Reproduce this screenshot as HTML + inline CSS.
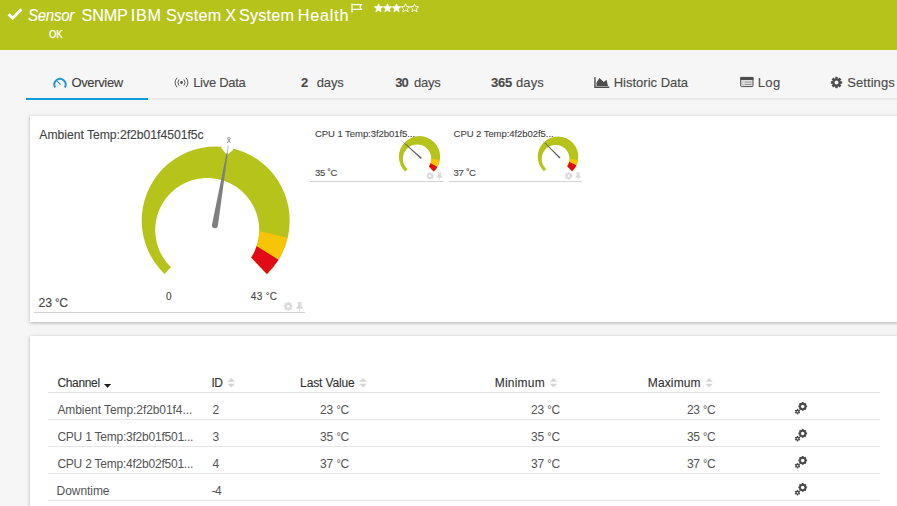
<!DOCTYPE html>
<html>
<head>
<meta charset="utf-8">
<title>Sensor SNMP IBM System X System Health</title>
<style>
*{box-sizing:border-box;margin:0;padding:0}
html,body{width:897px;height:506px;overflow:hidden}
body{background:#f6f6f6;font-family:"Liberation Sans",sans-serif;color:#4d4d4d;position:relative}
.abs{position:absolute;white-space:nowrap;line-height:1}
#hdr{position:absolute;left:0;top:0;width:897px;height:50px;background:#b5c31b}
#hdr .t{color:#fff}
.x{position:absolute;white-space:nowrap;line-height:1;color:#4a4a4a;-webkit-text-stroke:0.12px currentColor}
.x b{font-weight:bold}
.d{font-size:.9em;position:relative;top:-.09em}
.panel{position:absolute;background:#fff;box-shadow:0 1px 3px rgba(0,0,0,.25),0 0 8px rgba(0,0,0,.05)}
.hl{position:absolute;height:1px;background:#d2d2d2}
.rowl{position:absolute;left:48px;width:832px;height:1px;background:#e6e6e6}
</style>
</head>
<body>

<!-- header -->
<div id="hdr">
  <svg class="abs" style="left:7px;top:7px" width="16" height="14" viewBox="0 0 16 14"><path d="M1.6 7.3 L5.6 11.2 L14.3 2.2" fill="none" stroke="#fff" stroke-width="3"/></svg>
  <svg class="abs" style="left:351px;top:3.4px" width="12" height="10" viewBox="0 0 12 10"><path d="M1 0.5 V9.5 M1 1.6 H10.3 L9 3.9 L10.3 6.3 H1" fill="none" stroke="#fff" stroke-width="1.25"/></svg>
  <svg class="abs" id="stars" style="left:374px;top:2.9px" width="46" height="11" viewBox="0 0 46 11">
    <g fill="#fff" stroke="#fff" stroke-width="0.8" stroke-linejoin="miter">
      <path id="st" d="M4.5 0.8 L5.7 3.6 L8.7 3.8 L6.4 5.8 L7.1 8.8 L4.5 7.2 L1.9 8.8 L2.6 5.8 L0.3 3.8 L3.3 3.6 Z"/>
      <path d="M4.5 0.8 L5.7 3.6 L8.7 3.8 L6.4 5.8 L7.1 8.8 L4.5 7.2 L1.9 8.8 L2.6 5.8 L0.3 3.8 L3.3 3.6 Z" transform="translate(9,0)"/>
      <path d="M4.5 0.8 L5.7 3.6 L8.7 3.8 L6.4 5.8 L7.1 8.8 L4.5 7.2 L1.9 8.8 L2.6 5.8 L0.3 3.8 L3.3 3.6 Z" transform="translate(18,0)"/>
    </g>
    <g fill="none" stroke="#fff" stroke-width="0.9">
      <path d="M4.5 0.8 L5.7 3.6 L8.7 3.8 L6.4 5.8 L7.1 8.8 L4.5 7.2 L1.9 8.8 L2.6 5.8 L0.3 3.8 L3.3 3.6 Z" transform="translate(27,0)"/>
      <path d="M4.5 0.8 L5.7 3.6 L8.7 3.8 L6.4 5.8 L7.1 8.8 L4.5 7.2 L1.9 8.8 L2.6 5.8 L0.3 3.8 L3.3 3.6 Z" transform="translate(36,0)"/>
    </g>
  </svg>
</div>

<!-- tabs -->
<div class="hl" style="left:26px;top:98px;width:871px;height:2px;background:#ebebeb"></div>
<div class="abs" style="left:26px;top:98px;width:122px;height:2px;background:#0f9bd8"></div>

<svg class="abs" style="left:52.8px;top:75.6px" width="14" height="14" viewBox="0 0 14 14"><path d="M2.2 11.5 A5.6 5.6 0 1 1 11.8 11.5" fill="none" stroke="#1e95d3" stroke-width="1.9"/><path d="M7.6 8.6 L4 5.2" stroke="#1e95d3" stroke-width="1.1"/></svg>

<svg class="abs" style="left:174px;top:76.5px" width="15" height="11" viewBox="0 0 15 11"><g fill="none" stroke="#555" stroke-width="1"><path d="M3 0.8 A7.4 7.4 0 0 0 3 10.2"/><path d="M5.1 2.5 A4.6 4.6 0 0 0 5.1 8.5"/><path d="M12 0.8 A7.4 7.4 0 0 1 12 10.2"/><path d="M9.9 2.5 A4.6 4.6 0 0 1 9.9 8.5"/></g><circle cx="7.5" cy="5.5" r="1.45" fill="#555"/></svg>


<svg class="abs" style="left:590px;top:74px" width="24" height="16" viewBox="590 74 24 16"><path d="M594.95 77.2 V87.3 H609.3" fill="none" stroke="#4d4d4d" stroke-width="1.4"/><path d="M596.5 85.9 V82.4 L599.4 77.9 L603.8 82.1 L606.5 79.8 L608 85.9 Z" fill="#4d4d4d"/></svg>

<svg class="abs" style="left:736px;top:74px" width="24" height="16" viewBox="736 74 24 16"><rect x="740.7" y="77.4" width="12.3" height="9.2" rx="0.8" fill="#e0e0e0" stroke="#4d4d4d" stroke-width="1"/><rect x="740.2" y="76.9" width="13.3" height="3" rx="0.8" fill="#4d4d4d"/><path d="M744.6 82 H751.6 M744.6 84.4 H751.6" stroke="#8c8c8c" stroke-width="0.9"/><path d="M742 82 H743.4 M742 84.4 H743.4" stroke="#a8a8a8" stroke-width="0.9"/></svg>

<svg class="abs" id="tabgear" style="left:829.85px;top:75.5px" width="13" height="13" viewBox="-6.5 -6.5 13 13"><g fill="#4d4d4d"><circle r="4.25"/><rect x="-1.25" y="-5.65" width="2.5" height="11.3"/><rect x="-1.25" y="-5.65" width="2.5" height="11.3" transform="rotate(45)"/><rect x="-1.25" y="-5.65" width="2.5" height="11.3" transform="rotate(90)"/><rect x="-1.25" y="-5.65" width="2.5" height="11.3" transform="rotate(135)"/></g><circle r="2" fill="#f6f6f6"/></svg>

<!-- panel 1 -->
<div class="panel" style="left:30px;top:116px;width:900px;height:206px"></div>

<div class="hl" style="left:34px;top:312px;width:271px"></div>

<svg class="abs" style="left:130px;top:125px" width="180" height="160" viewBox="130 125 180 160">
  <defs>
    <clipPath id="cpL" clip-rule="evenodd"><path clip-rule="evenodd" d="M130 125 H310 V285 H130 Z M259.2 230 A52 52 0 1 0 155.2 230 A52 52 0 1 0 259.2 230 Z"/></clipPath>
  </defs>
  <g clip-path="url(#cpL)">
    <!-- green 135deg -> 373.5 -->
    <path d="M215.7 220.5 L164.48 273.91 A74 74 0 1 1 266.92 273.91 Z" fill="#b5c31b"/>
    <path d="M215.7 220.5 L287.66 237.78 A74 74 0 0 1 266.92 273.91 Z" fill="#f6c506"/>
    <path d="M215.7 220.5 L278.46 259.71 A74 74 0 0 1 266.92 273.91 Z" fill="#e30a17"/>
  </g>
  <path d="M221.5 144 L233 144 L232.8 150.2 L226.9 155 L221.6 148.3 Z" fill="#fff"/>
  <path d="M226.6 152.7 L227.8 152.9 L217.85 225.9 A3 3 0 0 1 211.95 224.9 Z" fill="#7f7f7f"/>
  <path d="M227.2 153 L228.3 145.5" stroke="#9a9a9a" stroke-width="0.7"/>
  <text x="228.8" y="143" font-size="8.5" fill="#777" text-anchor="middle" font-family="Liberation Sans, sans-serif">x̄</text>
</svg>

<!-- mini gauges -->
<div class="hl" style="left:310px;top:181px;width:134px"></div>
<div class="hl" style="left:449px;top:181px;width:133px"></div>

<svg class="abs" style="left:390px;top:130px" width="200" height="50" viewBox="390 130 200 50">
  <defs>
    <clipPath id="cpS"><path clip-rule="evenodd" d="M390 130 H460 V180 H390 Z M431.3 158.8 A14.2 14.2 0 1 0 402.9 158.8 A14.2 14.2 0 1 0 431.3 158.8 Z"/></clipPath>
    <clipPath id="cpS2"><path clip-rule="evenodd" d="M520 130 H600 V180 H520 Z M569.5 158.8 A13.9 13.9 0 1 0 541.7 158.8 A13.9 13.9 0 1 0 569.5 158.8 Z"/></clipPath>
  </defs>
  <g clip-path="url(#cpS)">
    <path d="M419.5 156.7 L405.24 171.57 A20.6 20.6 0 1 1 433.76 171.57 Z" fill="#b5c31b"/>
    <path d="M419.5 156.7 L439.82 160.1 A20.6 20.6 0 0 1 433.76 171.57 Z" fill="#f6c506"/>
    <path d="M419.5 156.7 L437.34 167 A20.6 20.6 0 0 1 433.76 171.57 Z" fill="#e30a17"/>
  </g>
  <path d="M421.8 157.7 L420.8 158.9 L404.3 143.5 L404.7 143.1 Z" fill="#5c5c5c"/>
  <path d="M404.5 143.3 L401.3 140.5" stroke="#b8b8d8" stroke-width="0.7"/>
  <g clip-path="url(#cpS2)">
    <path d="M558 156.7 L543.95 171.35 A20.3 20.3 0 1 1 572.05 171.35 Z" fill="#b5c31b"/>
    <path d="M558 156.7 L578.05 159.88 A20.3 20.3 0 0 1 572.05 171.35 Z" fill="#f6c506"/>
    <path d="M558 156.7 L576.4 165.28 A20.3 20.3 0 0 1 572.05 171.35 Z" fill="#e30a17"/>
  </g>
  <path d="M560.5 157.4 L559.4 158.5 L544.6 142.9 L545 142.5 Z" fill="#5c5c5c"/>
  <path d="M544.8 142.7 L542.4 140.2" stroke="#b8b8d8" stroke-width="0.7"/>
</svg>


<!-- gauge action icons -->
<svg class="abs" style="left:0;top:0" width="897" height="506" viewBox="0 0 897 506">
  <defs>
    <g id="gr"><circle r="3.3"/><rect x="-1" y="-4.5" width="2" height="9"/><rect x="-1" y="-4.5" width="2" height="9" transform="rotate(45)"/><rect x="-1" y="-4.5" width="2" height="9" transform="rotate(90)"/><rect x="-1" y="-4.5" width="2" height="9" transform="rotate(135)"/><circle r="1.4" fill="#fff"/></g>
    <path id="pn" d="M-2.6 -4.8 H2.6 V-3.9 H1.7 V-1 L3.3 0.6 V1.7 H0.4 V4.8 H-0.4 V1.7 H-3.3 V0.6 L-1.7 -1 V-3.9 H-2.6 Z"/>
  </defs>
  <g fill="#dadada">
    <use href="#gr" x="288.2" y="306.4"/>
    <use href="#pn" x="299.6" y="307"/>
    <use href="#gr" transform="translate(430.1 176) scale(0.82)"/>
    <use href="#pn" transform="translate(439.5 176.3) scale(0.8)"/>
    <use href="#gr" transform="translate(568.7 176) scale(0.82)"/>
    <use href="#pn" transform="translate(578.1 176.3) scale(0.8)"/>
  </g>
</svg>

<!-- panel 2 -->
<div class="panel" style="left:30px;top:336px;width:900px;height:200px"></div>


<div class="rowl" style="top:392px;background:#e1e1e1"></div>
<div class="rowl" style="top:419px"></div>
<div class="rowl" style="top:446px"></div>
<div class="rowl" style="top:473px"></div>
<div class="rowl" style="top:500px"></div>






<!-- table icons -->
<svg class="abs" style="left:0;top:0" width="897" height="506" viewBox="0 0 897 506">
  <defs>
    <g id="srt"><path d="M0 3.7 L3.8 0 L7.6 3.7 Z M0 5.8 L7.6 5.8 L3.8 9.6 Z"/></g>
    <g id="gg">
      <g fill="#4a4a4a"><circle cx="802.7" cy="406.4" r="3.6"/>
        <g transform="translate(802.7 406.4)"><rect x="-0.9" y="-4.4" width="1.8" height="8.8"/><rect x="-0.9" y="-4.4" width="1.8" height="8.8" transform="rotate(45)"/><rect x="-0.9" y="-4.4" width="1.8" height="8.8" transform="rotate(90)"/><rect x="-0.9" y="-4.4" width="1.8" height="8.8" transform="rotate(135)"/></g>
        <circle cx="797.5" cy="411.7" r="2.1"/>
        <g transform="translate(797.5 411.7)"><rect x="-0.6" y="-2.8" width="1.2" height="5.6"/><rect x="-0.6" y="-2.8" width="1.2" height="5.6" transform="rotate(60)"/><rect x="-0.6" y="-2.8" width="1.2" height="5.6" transform="rotate(120)"/></g>
      </g>
      <circle cx="802.7" cy="406.4" r="1.75" fill="#fff"/><circle cx="797.5" cy="411.7" r="0.8" fill="#fff"/>
    </g>
  </defs>
  <path d="M104 384 H111.2 L107.6 387.8 Z" fill="#1c1c24"/>
  <g fill="#d6d6d6">
    <use href="#srt" x="227.5" y="378"/>
    <use href="#srt" x="359.3" y="378"/>
    <use href="#srt" x="549.7" y="378"/>
    <use href="#srt" x="705.3" y="378"/>
  </g>
  <use href="#gg"/>
  <use href="#gg" y="27"/>
  <use href="#gg" y="54"/>
  <use href="#gg" y="81"/>
</svg>

<div class="x" id="tw0" style="left:28.00px;top:5px;font-size:16.2px;letter-spacing:-0.240px;color:#fff;line-height:20px;transform:scaleX(.925);transform-origin:0 0"><i>Sensor</i></div>
<div class="x" id="tw1" style="left:81.50px;top:5px;font-size:16.2px;letter-spacing:-0.133px;color:#fff;line-height:20px">SNMP</div>
<div class="x" id="tw2" style="left:130.70px;top:5px;font-size:16.2px;letter-spacing:0.800px;color:#fff;line-height:20px">IBM</div>
<div class="x" id="tw3" style="left:166.00px;top:5px;font-size:16.2px;letter-spacing:0.240px;color:#fff;line-height:20px">System</div>
<div class="x" id="tw4" style="left:225.20px;top:5px;font-size:16.2px;letter-spacing:0.000px;color:#fff;line-height:20px">X</div>
<div class="x" id="tw5" style="left:239.10px;top:5px;font-size:16.2px;letter-spacing:0.160px;color:#fff;line-height:20px">System</div>
<div class="x" id="tw6" style="left:297.70px;top:5px;font-size:16.2px;letter-spacing:0.800px;color:#fff;line-height:20px">Health</div>
<div class="x" id="ok" style="left:48.50px;top:29.3px;font-size:10.5px;letter-spacing:0.000px;color:#fff;-webkit-text-stroke:0.25px #fff;transform:scaleX(.9);transform-origin:0 0">OK</div>
<div class="x" id="tb1" style="left:71.40px;top:76px;font-size:13px;letter-spacing:-0.343px;color:#3f3f3f">Overview</div>
<div class="x" id="tb2" style="left:193.20px;top:76px;font-size:13px;letter-spacing:-0.300px;">Live Data</div>
<div class="x" id="tb3a" style="left:301.00px;top:76px;font-size:13px;letter-spacing:0.000px;"><b>2</b></div>
<div class="x" id="tb3b" style="left:316.70px;top:76px;font-size:13px;letter-spacing:-0.133px;">days</div>
<div class="x" id="tb4a" style="left:395.20px;top:76px;font-size:13px;letter-spacing:-0.800px;"><b>30</b></div>
<div class="x" id="tb4b" style="left:414.10px;top:76px;font-size:13px;letter-spacing:-0.267px;">days</div>
<div class="x" id="tb5a" style="left:491.00px;top:76px;font-size:13px;letter-spacing:-0.200px;"><b>365</b></div>
<div class="x" id="tb5b" style="left:516.00px;top:76px;font-size:13px;letter-spacing:0.133px;">days</div>
<div class="x" id="tb6" style="left:613.70px;top:76px;font-size:13px;letter-spacing:0.000px;">Historic Data</div>
<div class="x" id="tb7" style="left:757.70px;top:76px;font-size:13px;letter-spacing:0.400px;">Log</div>
<div class="x" id="tb8" style="left:847.30px;top:76px;font-size:13px;letter-spacing:0.057px;">Settings</div>
<div class="x" id="g1t" style="left:39.30px;top:129px;font-size:12.2px;letter-spacing:-0.031px;color:#444">Ambient Temp:2f2b01f4501f5c</div>
<div class="x" id="g1v" style="left:38.60px;top:296.5px;font-size:12.2px;letter-spacing:-0.200px;color:#444">23 <span class="d">°</span>C</div>
<div class="x" id="g1a" style="left:166.00px;top:291.5px;font-size:10px;letter-spacing:0.000px;color:#444">0</div>
<div class="x" id="g1b" style="left:250.70px;top:291.5px;font-size:10px;letter-spacing:0.400px;color:#444">43 <span class="d">°</span>C</div>
<div class="x" id="m1t" style="left:315.00px;top:129px;font-size:9.5px;letter-spacing:-0.057px;color:#444">CPU 1 Temp:3f2b01f5...</div>
<div class="x" id="m1v" style="left:315.00px;top:168px;font-size:9.5px;letter-spacing:-0.300px;color:#444">35 <span class="d">°</span>C</div>
<div class="x" id="m2t" style="left:453.60px;top:129px;font-size:9.5px;letter-spacing:-0.057px;color:#444">CPU 2 Temp:4f2b02f5...</div>
<div class="x" id="m2v" style="left:453.60px;top:168px;font-size:9.5px;letter-spacing:-0.300px;color:#444">37 <span class="d">°</span>C</div>
<div class="x" id="h1" style="left:57.40px;top:377px;font-size:12px;letter-spacing:-0.333px;color:#333">Channel</div>
<div class="x" id="h2" style="left:211.60px;top:377px;font-size:12px;letter-spacing:-0.800px;color:#333">ID</div>
<div class="x" id="h3" style="left:300.10px;top:377px;font-size:12px;letter-spacing:-0.133px;color:#333">Last Value</div>
<div class="x" id="h4" style="left:494.80px;top:377px;font-size:12px;letter-spacing:0.200px;color:#333">Minimum</div>
<div class="x" id="h5" style="left:647.80px;top:377px;font-size:12px;letter-spacing:0.133px;color:#333">Maximum</div>
<div class="x" id="r0a" style="left:57.40px;top:404px;font-size:12px;letter-spacing:-0.070px;color:#545454;-webkit-text-stroke:0">Ambient Temp:2f2b01f4...</div>
<div class="x" id="r0b" style="left:212.40px;top:404px;font-size:12px;letter-spacing:0.000px;color:#545454;-webkit-text-stroke:0">2</div>
<div class="x" id="r0c" style="left:320.00px;top:404px;font-size:12px;letter-spacing:-0.100px;color:#545454;-webkit-text-stroke:0">23 <span class="d">°</span>C</div>
<div class="x" id="r0d" style="left:530.90px;top:404px;font-size:12px;letter-spacing:-0.100px;color:#545454;-webkit-text-stroke:0">23 <span class="d">°</span>C</div>
<div class="x" id="r0e" style="left:686.90px;top:404px;font-size:12px;letter-spacing:-0.200px;color:#545454;-webkit-text-stroke:0">23 <span class="d">°</span>C</div>
<div class="x" id="r1a" style="left:57.40px;top:431px;font-size:12px;letter-spacing:-0.226px;color:#545454;-webkit-text-stroke:0">CPU 1 Temp:3f2b01f501...</div>
<div class="x" id="r1b" style="left:212.40px;top:431px;font-size:12px;letter-spacing:0.000px;color:#545454;-webkit-text-stroke:0">3</div>
<div class="x" id="r1c" style="left:320.00px;top:431px;font-size:12px;letter-spacing:-0.100px;color:#545454;-webkit-text-stroke:0">35 <span class="d">°</span>C</div>
<div class="x" id="r1d" style="left:530.90px;top:431px;font-size:12px;letter-spacing:-0.100px;color:#545454;-webkit-text-stroke:0">35 <span class="d">°</span>C</div>
<div class="x" id="r1e" style="left:686.90px;top:431px;font-size:12px;letter-spacing:-0.200px;color:#545454;-webkit-text-stroke:0">35 <span class="d">°</span>C</div>
<div class="x" id="r2a" style="left:57.40px;top:458px;font-size:12px;letter-spacing:-0.226px;color:#545454;-webkit-text-stroke:0">CPU 2 Temp:4f2b02f501...</div>
<div class="x" id="r2b" style="left:212.40px;top:458px;font-size:12px;letter-spacing:0.000px;color:#545454;-webkit-text-stroke:0">4</div>
<div class="x" id="r2c" style="left:320.00px;top:458px;font-size:12px;letter-spacing:-0.100px;color:#545454;-webkit-text-stroke:0">37 <span class="d">°</span>C</div>
<div class="x" id="r2d" style="left:530.90px;top:458px;font-size:12px;letter-spacing:-0.100px;color:#545454;-webkit-text-stroke:0">37 <span class="d">°</span>C</div>
<div class="x" id="r2e" style="left:686.90px;top:458px;font-size:12px;letter-spacing:-0.200px;color:#545454;-webkit-text-stroke:0">37 <span class="d">°</span>C</div>
<div class="x" id="r3a" style="left:56.60px;top:485px;font-size:12px;letter-spacing:-0.057px;color:#545454;-webkit-text-stroke:0">Downtime</div>
<div class="x" id="r3b" style="left:211.70px;top:485px;font-size:12px;letter-spacing:-0.680px;color:#545454;-webkit-text-stroke:0">-4</div>
</body>
</html>
